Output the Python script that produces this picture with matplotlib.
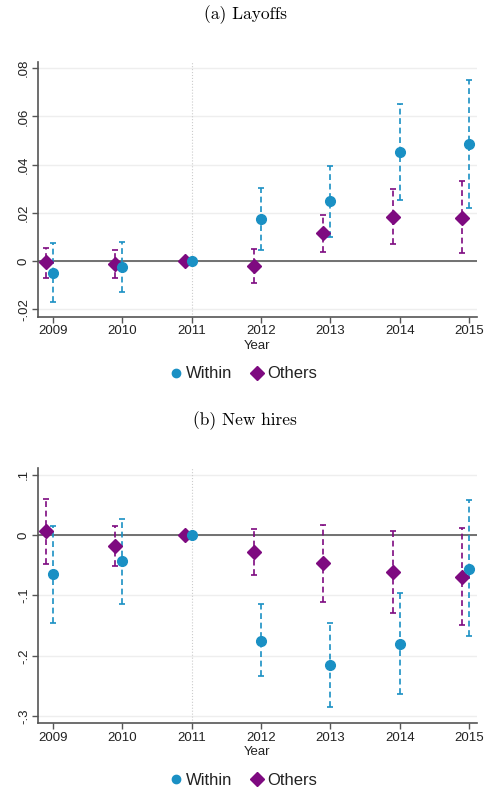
import numpy as np
import matplotlib
matplotlib.use('Agg')
import matplotlib.pyplot as plt
from matplotlib.lines import Line2D
import matplotlib.ticker as mticker

# event-study estimates
years = [2009, 2010, 2011, 2012, 2013, 2014, 2015]

lay_within = [-0.0049, -0.0026, 0.0, 0.0174, 0.0248, 0.0452, 0.0486]
lay_within_hi = [0.0073, 0.0080, 0.0, 0.0304, 0.0396, 0.0650, 0.0751]
lay_within_lo = [-0.0171, -0.0130, 0.0, 0.0046, 0.0101, 0.0253, 0.0221]
lay_others = [-0.0005, -0.0011, 0.0, -0.0022, 0.0115, 0.0183, 0.0180]
lay_others_hi = [0.0055, 0.0046, 0.0, 0.0049, 0.0192, 0.0298, 0.0331]
lay_others_lo = [-0.0069, -0.0070, 0.0, -0.0090, 0.0039, 0.0069, 0.0032]

hire_within = [-0.065, -0.043, 0.0, -0.175, -0.215, -0.180, -0.056]
hire_within_hi = [0.0144, 0.027, 0.0, -0.115, -0.145, -0.096, 0.058]
hire_within_lo = [-0.145, -0.114, 0.0, -0.234, -0.284, -0.264, -0.168]
hire_others = [0.006, -0.018, 0.0, -0.028, -0.047, -0.061, -0.069]
hire_others_hi = [0.059, 0.015, 0.0, 0.0105, 0.017, 0.007, 0.0116]
hire_others_lo = [-0.048, -0.051, 0.0, -0.067, -0.111, -0.129, -0.149]

lay_yticks = [-0.02, 0, 0.02, 0.04, 0.06, 0.08]
hire_yticks = [-0.3, -0.2, -0.1, 0, 0.1]

c_within = '#1a90c4'
c_others = '#7e0a80'
axcol = '#555555'

plt.rcParams['font.family'] = ['Liberation Sans', 'DejaVu Sans']


def stata_fmt(v, pos):
    s = '{:g}'.format(round(v, 4))
    return s.replace('0.', '.')


def draw_panel(ax, within, w_lo, w_hi, others, o_lo, o_hi, yticks, ylim):
    x = np.array(years, dtype=float)
    xo = x - 0.1
    for t in yticks:
        ax.axhline(t, color='#eeeeee', lw=1.0, zorder=0)
    ax.axvline(2011, color='#cccccc', lw=0.8, ls=':', zorder=0)
    ax.axhline(0, color='#666666', lw=1.3, zorder=1)

    for xx, m, lo, hi, col, mk, ms in [(xo, others, o_lo, o_hi, c_others, 'D', 7.5),
                                        (x, within, w_lo, w_hi, c_within, 'o', 7)]:
        m = np.array(m)
        err = [m - np.array(lo), np.array(hi) - m]
        keep = np.array(hi) != np.array(lo)
        eb = ax.errorbar(xx[keep], m[keep], yerr=[err[0][keep], err[1][keep]], fmt='none',
                         ecolor=col, elinewidth=1.2, capsize=2, capthick=1.2, zorder=2)
        eb[2][0].set_linestyle((0, (3.5, 2.2)))
        ax.plot(xx, m, ls='none', marker=mk, color=col, ms=ms, zorder=3)

    ax.set_xlim(2008.79, 2015.107)
    ax.set_ylim(*ylim)
    ax.set_xticks(years)
    ax.set_yticks(yticks)
    ax.yaxis.set_major_formatter(mticker.FuncFormatter(stata_fmt))
    ax.tick_params(axis='both', colors=axcol, labelcolor='#222222', labelsize=9.5,
                   length=4, width=1, pad=2)
    ax.tick_params(axis='y', labelrotation=90)
    for lab in ax.get_yticklabels():
        lab.set_va('center')
    for s in ['top', 'right']:
        ax.spines[s].set_visible(False)
    for s in ['left', 'bottom']:
        ax.spines[s].set_color(axcol)
        ax.spines[s].set_linewidth(1.2)
    ax.set_xlabel('Year', fontsize=9.5, color='#222222', labelpad=2)


fig = plt.figure(figsize=(4.93, 8.07), dpi=100)
ax1 = fig.add_axes([0.0777, 0.6076, 0.889, 0.3159])
ax2 = fig.add_axes([0.0777, 0.1037, 0.889, 0.3160])

draw_panel(ax1, lay_within, lay_within_lo, lay_within_hi,
           lay_others, lay_others_lo, lay_others_hi, lay_yticks, (-0.0231, 0.0827))
draw_panel(ax2, hire_within, hire_within_lo, hire_within_hi,
           hire_others, hire_others_lo, hire_others_hi, hire_yticks, (-0.3118, 0.1104))

fig.text(0.497, 0.982, '(a) Layoffs', family='cmr10', fontsize=12.5, ha='center', va='center')
fig.text(0.497, 0.479, '(b) New hires', family='cmr10', fontsize=12.5, ha='center', va='center')

handles = [Line2D([], [], ls='none', marker='o', color=c_within, ms=6, label='Within'),
           Line2D([], [], ls='none', marker='D', color=c_others, ms=7, label='Others')]
for yy in [1 - 374 / 807, 1 - 780.5 / 807]:
    fig.legend(handles=handles, loc='center', bbox_to_anchor=(0.495, yy), ncol=2,
               frameon=False, fontsize=12, handlelength=0.6, handletextpad=0.3,
               columnspacing=1.2, labelcolor='#222222')

fig.savefig('out.png', dpi=100)
